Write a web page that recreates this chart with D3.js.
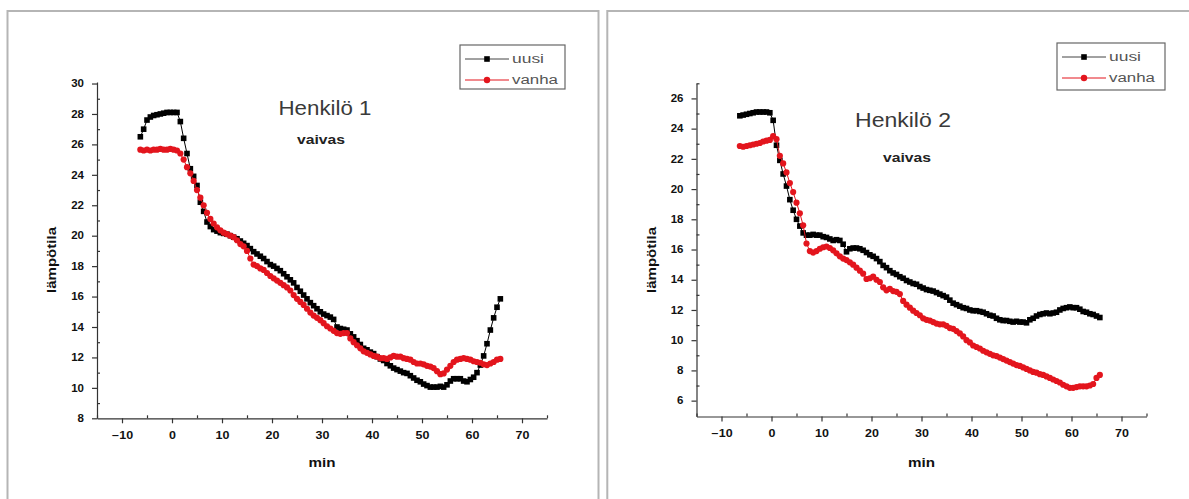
<!DOCTYPE html>
<html><head><meta charset="utf-8">
<script src="https://cdn.jsdelivr.net/npm/d3@7"></script>
<style>body{margin:0;background:#fff}svg{display:block}</style>
</head><body>
<svg id="c" width="1189" height="499"></svg>
<script>
// ---- data ----
const minutes = [-6.33,-5.67,-5,-4.33,-3.67,-3,-2.33,-1.67,-1,-0.33,0.33,1,1.67,2.33,3,3.67,4.33,5,5.67,6.33,7,7.67,8.33,9,9.67,10.33,11,11.67,12.33,13,13.67,14.33,15,15.67,16.33,17,17.67,18.33,19,19.67,20.33,21,21.67,22.33,23,23.67,24.33,25,25.67,26.33,27,27.67,28.33,29,29.67,30.33,31,31.67,32.33,33,33.67,34.33,35,35.67,36.33,37,37.67,38.33,39,39.67,40.33,41,41.67,42.33,43,43.67,44.33,45,45.67,46.33,47,47.67,48.33,49,49.67,50.33,51,51.67,52.33,53,53.67,54.33,55,55.67,56.33,57,57.67,58.33,59,59.67,60.33,61,61.67,62.33,63,63.67,64.33,65,65.67];

const p1Uusi = [26.5,27.0,27.6,27.8,27.9,27.95,28.0,28.05,28.1,28.1,
28.1,28.1,27.5,26.4,25.4,24.4,23.9,23.3,22.2,21.6,
20.9,20.6,20.4,20.3,20.2,20.15,20.1,20.0,19.9,19.8,
19.65,19.5,19.35,19.15,18.95,18.8,18.65,18.5,18.3,18.1,
18.0,17.85,17.7,17.5,17.3,17.1,16.9,16.6,16.35,16.1,
15.85,15.6,15.4,15.2,15.0,14.85,14.75,14.65,14.5,14.0,
13.9,13.85,13.8,13.55,13.35,13.1,12.85,12.6,12.5,12.35,
12.25,12.05,11.9,11.8,11.6,11.45,11.3,11.2,11.1,11.0,
10.95,10.8,10.65,10.5,10.4,10.25,10.15,10.05,10.05,10.05,
10.1,10.05,10.2,10.45,10.6,10.6,10.6,10.45,10.4,10.55,
10.7,11.0,11.5,12.1,12.9,13.8,14.6,15.3,15.85];

const p1Vanha = [25.65,25.6,25.65,25.6,25.65,25.65,25.7,25.65,25.65,25.7,
25.65,25.6,25.4,25.0,24.5,24.1,23.6,23.0,22.5,22.0,
21.5,21.1,20.8,20.55,20.35,20.2,20.1,20.0,19.9,19.7,
19.45,19.3,19.0,18.5,18.1,18.0,17.85,17.75,17.55,17.35,
17.2,17.05,16.9,16.75,16.6,16.4,16.1,15.85,15.65,15.45,
15.2,14.95,14.75,14.6,14.45,14.25,14.05,13.9,13.75,13.6,
13.55,13.6,13.6,13.25,13.0,12.8,12.6,12.4,12.3,12.2,
12.1,12.05,11.95,11.95,11.9,12.0,12.1,12.05,12.05,11.95,
11.9,11.85,11.7,11.6,11.6,11.55,11.45,11.4,11.3,11.1,
10.9,10.95,11.2,11.45,11.7,11.85,11.9,11.95,11.9,11.85,
11.75,11.7,11.65,11.55,11.5,11.6,11.7,11.85,11.9];

const p2Uusi = [24.85,24.9,24.95,25.0,25.05,25.1,25.1,25.1,25.1,25.05,
24.55,22.9,21.9,21.0,20.2,19.3,18.6,18.0,17.55,17.1,
16.95,16.95,17.0,16.95,16.95,16.85,16.8,16.7,16.6,16.65,
16.6,16.35,15.85,16.05,16.1,16.1,16.05,15.95,15.8,15.65,
15.55,15.4,15.2,14.95,14.8,14.6,14.45,14.35,14.2,14.1,
13.95,13.85,13.75,13.7,13.55,13.45,13.35,13.3,13.25,13.15,
13.05,12.95,12.85,12.65,12.45,12.35,12.25,12.15,12.1,12.0,
11.95,11.95,11.9,11.85,11.75,11.65,11.6,11.45,11.35,11.3,
11.3,11.25,11.2,11.25,11.2,11.2,11.15,11.35,11.45,11.6,
11.7,11.75,11.8,11.75,11.8,11.85,12.0,12.1,12.15,12.2,
12.15,12.15,12.05,11.9,11.85,11.75,11.7,11.6,11.5];

const p2Vanha = [22.85,22.8,22.85,22.9,22.95,23.0,23.05,23.15,23.2,23.25,
23.5,23.3,22.2,21.7,21.1,20.4,19.8,19.1,18.4,17.6,
16.4,15.9,15.8,15.9,16.05,16.15,16.2,16.1,15.95,15.75,
15.55,15.4,15.3,15.15,15.0,14.8,14.6,14.4,14.05,14.1,
14.2,14.0,13.85,13.5,13.3,13.4,13.25,13.2,13.05,12.6,
12.35,12.15,11.95,11.8,11.65,11.45,11.35,11.3,11.2,11.1,
11.05,11.05,10.95,10.8,10.75,10.6,10.45,10.25,10.0,9.85,
9.65,9.55,9.45,9.3,9.2,9.1,9.0,8.95,8.85,8.75,
8.65,8.55,8.45,8.35,8.3,8.2,8.1,8.0,7.9,7.85,
7.75,7.7,7.6,7.5,7.4,7.3,7.2,7.05,6.95,6.85,
6.85,6.9,6.95,6.95,6.95,7.0,7.1,7.5,7.7];

const seriesNames = ["uusi", "vanha"];
const titles = ["Henkilö 1", "Henkilö 2"];
const subtitle = "vaivas";
const xLabel = "min";
const yLabel = "lämpötila";
const xMajorTicks = [-10,0,10,20,30,40,50,60,70];
const xMinorTicks = [-15,-5,5,15,25,35,45,55,65,75];
const y1MajorTicks = [8,10,12,14,16,18,20,22,24,26,28,30];
const y1MinorTicks = [9,11,13,15,17,19,21,23,25,27,29];
const y2MajorTicks = [6,8,10,12,14,16,18,20,22,24,26];
const y2MinorTicks = [7,9,11,13,15,17,19,21,23,25,27];

// ---- layout ----
const panels = [
  {frame:[7.5,11,591,520], x:[97,547], y:[418.3,82], xd:[-15,75], yd:[8,30.1],
   uusi:p1Uusi, vanha:p1Vanha, yMaj:y1MajorTicks, yMin:y1MinorTicks, title:titles[0],
   titleXY:[325,115], titleW:93, subXY:[321,144], legend:[460,45,105,44], yTitleX:52, yTitleY:260},
  {frame:[607.3,11,600,520], x:[696.5,1146.5], y:[416.5,83.3], xd:[-15,75], yd:[4.95,27],
   uusi:p2Uusi, vanha:p2Vanha, yMaj:y2MajorTicks, yMin:y2MinorTicks, title:titles[1],
   titleXY:[903,127], titleW:96, subXY:[907,162], legend:[1057,43,108,47], yTitleX:652, yTitleY:260}
];
const RED = "#e3151d";
const svg = d3.select("#c");
const FONT = "'Liberation Sans', Arial, sans-serif";

panels.forEach(p => {
  svg.append("rect").attr("x",p.frame[0]).attr("y",p.frame[1]).attr("width",p.frame[2]).attr("height",p.frame[3])
    .attr("fill","none").attr("stroke","#b5b5b5").attr("stroke-width",2);

  const x = d3.scaleLinear().domain(p.xd).range(p.x);
  const y = d3.scaleLinear().domain(p.yd).range(p.y);
  const g = svg.append("g");

  // x axis
  const xa = g.append("g").attr("transform",`translate(0,${p.y[0]})`)
    .call(d3.axisBottom(x).tickValues(xMajorTicks).tickSize(5).tickSizeOuter(0).tickPadding(8));
  xa.selectAll("text").attr("font-family",FONT).attr("font-weight","bold").attr("font-size",10)
    .attr("fill","#111").attr("y",13.5).attr("transform","scale(1.25,1)");
  g.append("g").attr("transform",`translate(0,${p.y[0]})`)
    .call(d3.axisBottom(x).tickValues(xMinorTicks).tickSize(-3).tickSizeOuter(0).tickFormat(""))
    .select(".domain").remove();

  // y axis
  const ya = g.append("g").attr("transform",`translate(${p.x[0]},0)`)
    .call(d3.axisLeft(y).tickValues(p.yMaj).tickSize(5).tickSizeOuter(0));
  ya.selectAll("text").attr("font-family",FONT).attr("font-weight","bold").attr("font-size",10)
    .attr("fill","#111").attr("x",-13/1.15).attr("transform","scale(1.15,1)");
  g.append("g").attr("transform",`translate(${p.x[0]},0)`)
    .call(d3.axisLeft(y).tickValues(p.yMin).tickSize(-3).tickSizeOuter(0).tickFormat(""))
    .select(".domain").remove();
  g.selectAll(".domain, .tick line").attr("stroke","#333").attr("stroke-width",1.2);

  // axis titles
  g.append("text").attr("x",(p.x[0]+p.x[1])/2).attr("y",466.5).attr("text-anchor","middle")
    .attr("font-family",FONT).attr("font-weight","bold").attr("font-size",13).attr("fill","#111")
    .attr("textLength",27).attr("lengthAdjust","spacingAndGlyphs").text(xLabel);
  g.append("text").attr("transform",`translate(${p.yTitleX+4},${p.yTitleY}) rotate(-90)`)
    .attr("text-anchor","middle").attr("font-family",FONT).attr("font-weight","bold").attr("font-size",13)
    .attr("fill","#111").attr("textLength",66).attr("lengthAdjust","spacingAndGlyphs").text(yLabel);

  // titles
  g.append("text").attr("x",p.titleXY[0]).attr("y",p.titleXY[1]).attr("text-anchor","middle")
    .attr("font-family",FONT).attr("font-size",20).attr("fill","#3a3a3a")
    .attr("textLength",p.titleW).attr("lengthAdjust","spacingAndGlyphs").text(p.title);
  g.append("text").attr("x",p.subXY[0]).attr("y",p.subXY[1]).attr("text-anchor","middle")
    .attr("font-family",FONT).attr("font-weight","bold").attr("font-size",12).attr("fill","#222")
    .attr("textLength",48).attr("lengthAdjust","spacingAndGlyphs").text(subtitle);

  // series
  const line = d3.line().x((d,i)=>x(minutes[i])).y(d=>y(d));
  g.append("path").datum(p.uusi).attr("d",line).attr("fill","none").attr("stroke","#000").attr("stroke-width",1);
  g.selectAll(".sq").data(p.uusi).enter().append("rect")
    .attr("x",(d,i)=>x(minutes[i])-2.8).attr("y",d=>y(d)-2.8).attr("width",5.6).attr("height",5.6).attr("fill","#000");
  g.append("path").datum(p.vanha).attr("d",line).attr("fill","none").attr("stroke",RED).attr("stroke-width",1);
  g.selectAll(".ci").data(p.vanha).enter().append("circle")
    .attr("cx",(d,i)=>x(minutes[i])).attr("cy",d=>y(d)).attr("r",3.1).attr("fill",RED);

  // legend
  const [lx,ly,lw,lh] = p.legend;
  const lg = g.append("g");
  lg.append("rect").attr("x",lx).attr("y",ly).attr("width",lw).attr("height",lh)
    .attr("fill","#fff").attr("stroke","#666").attr("stroke-width",1.2);
  const rows = [{name:seriesNames[0], c:"#000", dy:14, sq:true},{name:seriesNames[1], c:RED, dy:35, sq:false}];
  rows.forEach(r => {
    const yy = ly + r.dy;
    lg.append("line").attr("x1",lx+5).attr("x2",lx+49).attr("y1",yy).attr("y2",yy)
      .attr("stroke", r.sq ? "#444" : RED).attr("stroke-width",1);
    if (r.sq) lg.append("rect").attr("x",lx+27-2.8).attr("y",yy-2.8).attr("width",5.6).attr("height",5.6).attr("fill","#000");
    else lg.append("circle").attr("cx",lx+27).attr("cy",yy).attr("r",3.2).attr("fill",RED);
    lg.append("text").attr("x",lx+52).attr("y",yy+4).attr("font-family",FONT).attr("font-size",12)
      .attr("fill","#555").attr("textLength", r.sq ? 32 : 46).attr("lengthAdjust","spacingAndGlyphs").text(r.name);
  });
});
</script>
</body></html>
